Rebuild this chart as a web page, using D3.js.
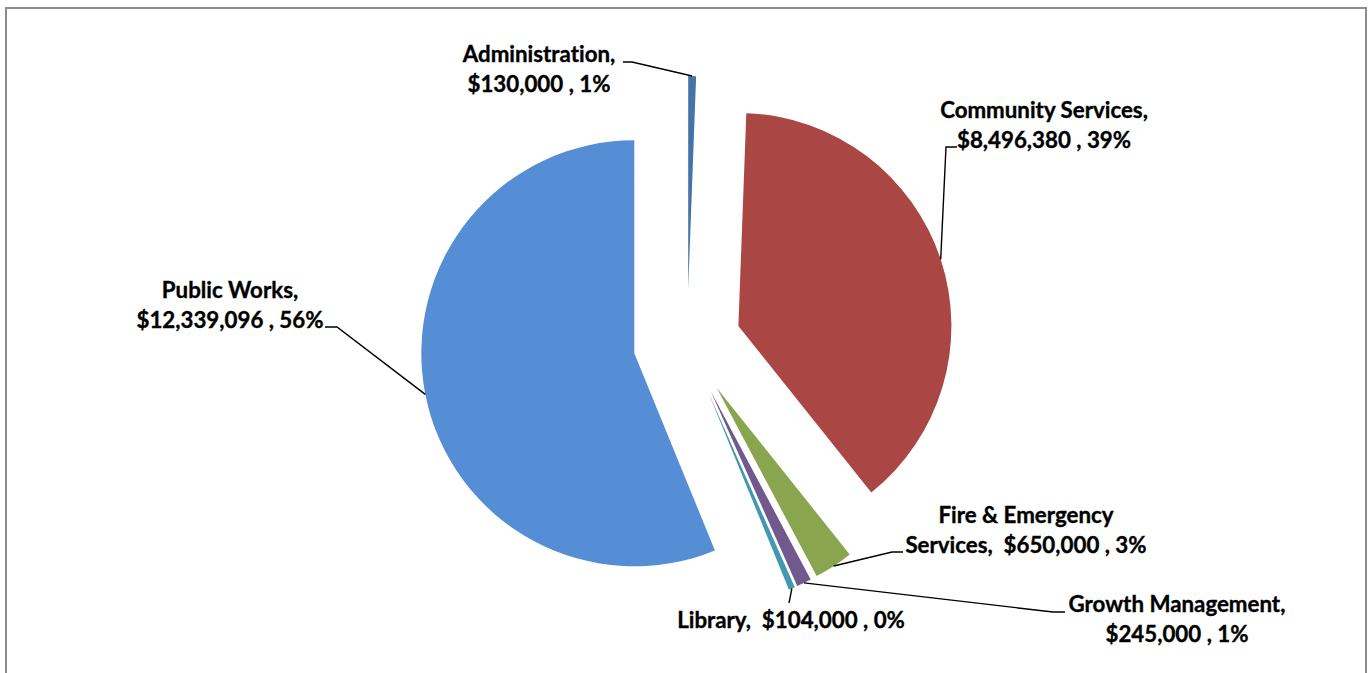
<!DOCTYPE html>
<html>
<head>
<meta charset="utf-8">
<script src="https://cdn.jsdelivr.net/npm/d3@7"></script>
<style>
  html, body { margin: 0; padding: 0; background: #ffffff; }
  svg { display: block; }
  .lbl {
    font-family: Lato, "Open Sans", sans-serif; font-weight: 700; font-size: 22.3px;
    fill: #000; stroke: #000; stroke-width: 0.35px; white-space: pre;
    font-variant-ligatures: none; font-feature-settings: "liga" 0, "clig" 0;
  }
</style>
</head>
<body>
<svg id="chart" width="1372" height="673"></svg>
<script>
// Budget by department (clockwise from 12 o'clock)
const departments = ["Administration", "Community Services", "Fire & Emergency Services", "Growth Management", "Library", "Public Works"];
const budgets = [130000, 8496380, 650000, 245000, 104000, 12339096];
const sliceColors = ["#4572A7", "#AA4643", "#89A54E", "#71588F", "#4198AF", "#558ED5"];

// Label placement: text centre, first baseline, words kept on line one (0 = single line),
// and the elbow of each leader line.
const labelLayout = [
  { x: 539,  y: 62,  words: 1, elbow: [632, 62],  end: [623, 62] },
  { x: 1044, y: 118, words: 2, elbow: [946, 147], end: [957, 147] },
  { x: 1026, y: 523, words: 3, elbow: [892, 552], end: [903, 552] },
  { x: 1177, y: 612, words: 2, elbow: [1053, 612], end: [1065, 612] },
  { x: 791,  y: 628, words: 0, elbow: [789, 603], end: [789, 603] },
  { x: 230,  y: 298, words: 2, elbow: [337, 327], end: [325, 327] }
];

const W = 1372, H = 673;
const cx = 687.2, cy = 342.9;   // pie centre
const radius = 213;
const explode = 53.9;           // every slice pulled out from the centre
const lineGap = 30;

const svg = d3.select("#chart");

// chart frame
svg.append("rect")
  .attr("x", 6).attr("y", 8)
  .attr("width", 1360).attr("height", 700)
  .attr("fill", "#fff")
  .attr("stroke", "#8c8c8c").attr("stroke-width", 2);

const data = departments.map((d, i) => ({ name: d, value: budgets[i], color: sliceColors[i], layout: labelLayout[i] }));
const total = d3.sum(budgets);

const pie = d3.pie().value(d => d.value).sort(null);
const arcs = pie(data);
const arc = d3.arc().innerRadius(0).outerRadius(radius);

const g = svg.append("g").attr("transform", `translate(${cx},${cy})`);

function offset(a) {
  const m = (a.startAngle + a.endAngle) / 2;
  return [Math.sin(m) * explode, -Math.cos(m) * explode];
}

g.selectAll("path.slice")
  .data(arcs)
  .join("path")
  .attr("class", "slice")
  .attr("d", arc)
  .attr("fill", d => d.data.color)
  .attr("transform", d => `translate(${offset(d)})`);

// leader lines from the middle of each outer arc, then the labels
const money = d3.format(",");
arcs.forEach(a => {
  const m = (a.startAngle + a.endAngle) / 2;
  const [ox, oy] = offset(a);
  const px = cx + ox + Math.sin(m) * radius;
  const py = cy + oy - Math.cos(m) * radius;
  const L = a.data.layout;
  svg.append("path")
    .attr("d", d3.line()([[px, py], L.elbow, L.end]))
    .attr("fill", "none")
    .attr("stroke", "#000")
    .attr("stroke-width", 1.4);

  const pct = Math.round(a.data.value / total * 100);
  const full = `${a.data.name},  $${money(a.data.value)} , ${pct}%`;
  let lines;
  if (L.words === 0) {
    lines = [full];
  } else {
    const re = /\s+/g;
    let k = 0, match, idx = -1, len = 0;
    while ((match = re.exec(full)) !== null) {
      k++;
      if (k === L.words) { idx = match.index; len = match[0].length; break; }
    }
    lines = [full.slice(0, idx), full.slice(idx + len)];
  }
  const t = svg.append("text").attr("class", "lbl").attr("text-anchor", "middle");
  lines.forEach((s, i) => {
    t.append("tspan").attr("x", L.x).attr("y", L.y + i * lineGap).text(s);
  });
});
</script>
</body>
</html>
